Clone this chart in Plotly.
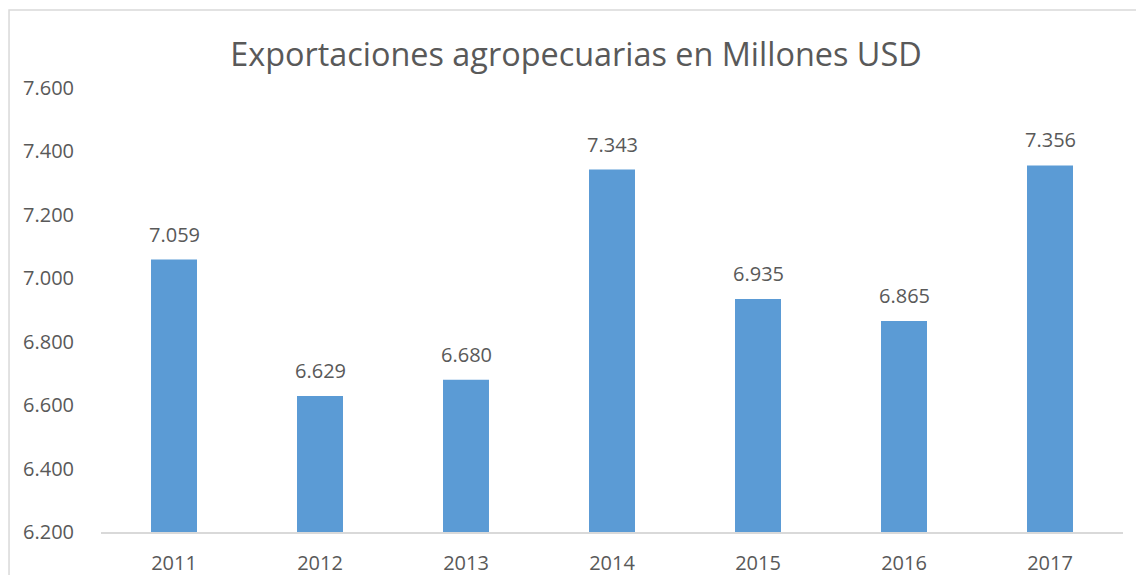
import plotly.graph_objects as go

# Agricultural exports, millions of USD
years = ["2011", "2012", "2013", "2014", "2015", "2016", "2017"]
exports = [7059, 6629, 6680, 7343, 6935, 6865, 7356]
y_ticks = [6200, 6400, 6600, 6800, 7000, 7200, 7400, 7600]

BAR = "#5B9BD5"
TEXT = "#595959"
FONT = "Open Sans"

fig = go.Figure(
    go.Bar(
        x=years,
        y=exports,
        marker=dict(color=BAR, line=dict(width=0)),
        hoverinfo="x+y",
    )
)

# value labels above each bar (x given as category index)
for i, v in enumerate(exports):
    fig.add_annotation(
        x=i, y=v, text=f"{v:,}".replace(",", "."),
        showarrow=False, yanchor="bottom", yshift=10,
        font=dict(family=FONT, size=20, color=TEXT),
    )

# chart frame (only its top and left edges fall inside the page)
fig.add_shape(
    type="rect", xref="paper", yref="paper",
    x0=-0.0900, x1=1.2, y0=-0.3, y1=1.1757,
    line=dict(color="#D9D9D9", width=1.5), layer="below",
)

fig.update_layout(
    width=1136, height=575,
    margin=dict(l=101, r=13, t=88, b=43, autoexpand=False),
    paper_bgcolor="white", plot_bgcolor="white",
    separators=",.",
    bargap=0.685,
    showlegend=False,
    title=dict(
        text="Exportaciones agropecuarias en Millones USD",
        x=0.507, xanchor="center", y=0.905, yanchor="middle",
        font=dict(family=FONT, size=32.4, color=TEXT),
    ),
    xaxis=dict(
        type="category", automargin=False, range=[-0.5, len(years) - 0.5],
        showgrid=False, showline=True, linecolor="#D9D9D9", linewidth=1.5,
        ticks="", tickfont=dict(family=FONT, size=20, color=TEXT),
        ticklabelstandoff=12,
    ),
    yaxis=dict(
        range=[6200, 7600], tickvals=y_ticks, tickformat=",d", automargin=False,
        showgrid=False, showline=False, zeroline=False, ticks="",
        tickfont=dict(family=FONT, size=20, color=TEXT),
        ticklabelstandoff=26,
    ),
)

fig.write_html("out.html")
